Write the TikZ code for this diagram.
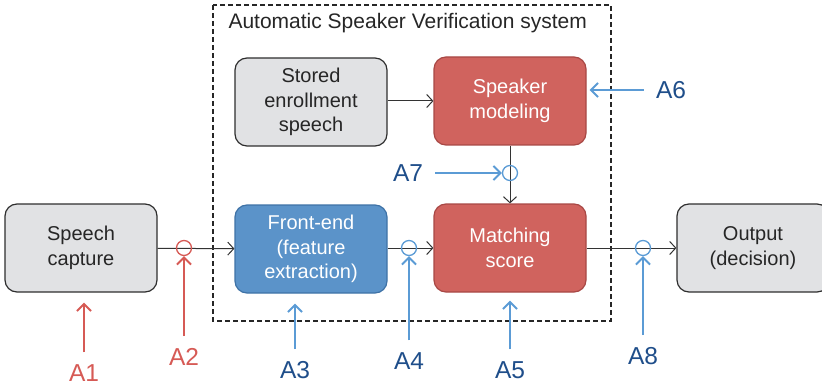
\documentclass[tikz,border=0pt]{standalone}
\usepackage{fontspec}
\setmainfont{Liberation Sans}
\usetikzlibrary{arrows.meta,positioning}
\definecolor{asvgray}{HTML}{E1E2E4}
\definecolor{asvedge}{HTML}{2E2E2E}
\definecolor{asvred}{HTML}{D0635E}
\definecolor{asvredd}{HTML}{A84845}
\definecolor{asvblue}{HTML}{5B93C9}
\definecolor{asvblued}{HTML}{3E72A6}
\definecolor{atkred}{HTML}{D65A55}
\definecolor{atkblue}{HTML}{5B9BD5}
\definecolor{lblblue}{HTML}{1F4E8A}

\begin{document}
\begin{tikzpicture}[
  x=1pt, y=-1pt,
  box/.style={
    rectangle, rounded corners=12pt, line width=1.2pt,
    minimum width=152pt, minimum height=88pt, align=center,
    font=\fontsize{20}{24.5}\selectfont
  },
  plain/.style={box, draw=asvedge, fill=asvgray, text=black!85},
  redbox/.style={box, draw=asvredd, fill=asvred, text=white},
  bluebox/.style={box, draw=asvblued, fill=asvblue, text=white},
  tap/.style={circle, line width=1.3pt, minimum size=15pt, inner sep=0pt},
  lbl/.style={font=\fontsize{24.5}{26}\selectfont, inner sep=2pt},
  flow/.style={-{Straight Barb[length=6pt,width=13pt]}, line width=1pt, black!80},
  atk/.style={-{Straight Barb[length=7pt,width=14pt]}, line width=2pt, shorten <=10pt},
]
  \useasboundingbox (0,0) rectangle (822,385);

  % ASV system frame
  \draw[line width=1.2pt, dash pattern=on 5pt off 3pt, black!85] (213,5) rectangle (611,321);
  \node[anchor=west, font=\fontsize{21}{24}\selectfont, text=black!85] (title) at (225,23)
    {Automatic Speaker Verification system};

  % Blocks
  \node[plain] (capture) at (81,248) {Speech\\capture};
  \node[bluebox] (frontend) at (311,249) {Front-end\\(feature\\extraction)};
  \node[plain] (stored) at (311,102) {Stored\\enrollment\\speech};
  \node[redbox] (model) at (510,101) {Speaker\\modeling};
  \node[redbox] (match) at (510,248) {Matching\\score};
  \node[plain] (output) at (753,248) {Output\\(decision)};

  % Signal path
  \draw[flow] (capture) -- (frontend);
  \draw[flow] (frontend.east |- match) -- (match);
  \draw[flow] (stored.east |- model) -- (model);
  \draw[flow] (model) -- (match);
  \draw[flow] (match) -- (output);

  % Attack points
  \node[tap, draw=atkred] (tap2) at (184,248) {};
  \node[tap, draw=atkblue] (tap4) at (409,248) {};
  \node[tap, draw=atkblue] (tap7) at (510,173) {};
  \node[tap, draw=atkblue] (tap8) at (643,248) {};

  % Labels
  \node[lbl, text=atkred] (a1) at (84,373) {A1};
  \node[lbl, text=atkred] (a2) at (184,357) {A2};
  \node[lbl, text=lblblue] (a3) at (295,370) {A3};
  \node[lbl, text=lblblue] (a4) at (409,361) {A4};
  \node[lbl, text=lblblue] (a5) at (510,370) {A5};
  \node[lbl, text=lblblue] (a6) at (671,90) {A6};
  \node[lbl, text=lblblue] (a7) at (408,173) {A7};
  \node[lbl, text=lblblue] (a8) at (643,356) {A8};

  % Attack arrows
  \draw[atk, atkred, shorten >=10pt] (a1.north) -- (a1.north |- capture.south);
  \draw[atk, atkred] (a2.north) -- (tap2.south);
  \draw[atk, atkblue, shorten >=10pt] (a3.north) -- (a3.north |- frontend.south);
  \draw[atk, atkblue] (a4.north) -- (tap4.south);
  \draw[atk, atkblue, shorten >=8pt] (a5.north) -- (match.south);
  \draw[atk, atkblue, shorten >=3pt] (a6.west) -- (a6.west -| model.east);
  \draw[atk, atkblue] (a7.east) -- (tap7.west);
  \draw[atk, atkblue] (a8.north) -- (tap8.south);
\end{tikzpicture}
\end{document}
